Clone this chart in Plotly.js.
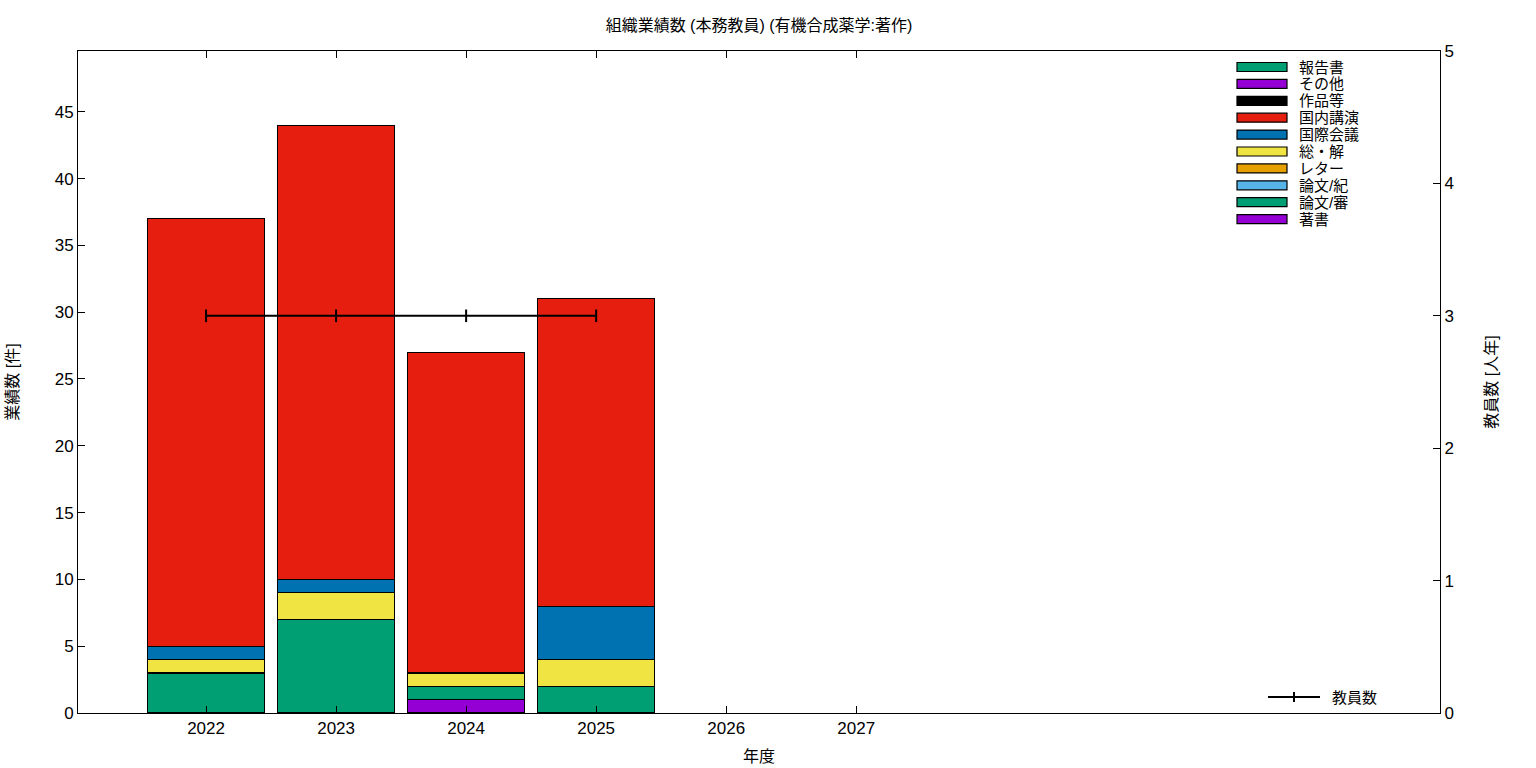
<!DOCTYPE html>
<html>
<head>
<meta charset="utf-8">
<script src="https://cdn.plot.ly/plotly-3.0.1.min.js"></script>
<style>html,body{margin:0;padding:0;background:#fff;}#chart{width:1536px;height:768px;}</style>
</head>
<body>
<div id="chart"></div>
<script>
// Data
const years = [2022, 2023, 2024, 2025];
const tickYears = [2022, 2023, 2024, 2025, 2026, 2027];
// series, stacked bottom to top
const seriesNames = ["著書", "論文/審", "論文/紀", "レター", "総・解", "国際会議", "国内講演", "作品等", "その他", "報告書"];
const seriesColors = ["#9400d3", "#009e73", "#56b4e9", "#e69f00", "#f0e442", "#0072b2", "#e51e10", "#000000", "#9400d3", "#009e73"];
const chosho     = [0, 0, 1, 0];
const ronbunShin = [3, 7, 1, 2];
const ronbunKi   = [0, 0, 0, 0];
const letter     = [0, 0, 0, 0];
const souKai     = [1, 2, 1, 2];
const kokusai    = [1, 1, 0, 4];
const kokunai    = [32, 34, 24, 23];
const sakuhin    = [0, 0, 0, 0];
const sonota     = [0, 0, 0, 0];
const houkoku    = [0, 0, 0, 0];
const seriesValues = [chosho, ronbunShin, ronbunKi, letter, souKai, kokusai, kokunai, sakuhin, sonota, houkoku];
const staffCount = [3, 3, 3, 3];

const FONT = "'Liberation Sans', 'Noto Sans CJK JP', sans-serif";

const traces = seriesNames.map((n, i) => ({
  type: 'bar', name: n, x: years, y: seriesValues[i], width: 0.9,
  marker: {color: seriesColors[i], line: {color: '#000', width: seriesValues[i].map(v => v > 0 ? 1.2 : 0)}},
  showlegend: false, hoverinfo: 'skip'
}));
traces.push({
  type: 'scatter', mode: 'lines+markers', name: '教員数', x: years, y: staffCount, yaxis: 'y2',
  line: {color: '#000', width: 2},
  marker: {symbol: 'line-ns-open', size: 9, color: '#000', line: {color: '#000', width: 2}},
  showlegend: false
});

// custom legend (gnuplot style)
const shapes = [];
const annotations = [];
const plotL = 78, plotR = 1440, plotT = 51, plotB = 713;
const pw = plotR - plotL, ph = plotB - plotT;
const px = x => (x - plotL) / pw;
const py = y => (plotB - y) / ph;
for (let k = 0; k < seriesNames.length; k++) {
  const idx = seriesNames.length - 1 - k;
  const yc = 67 + k * 16.9;
  shapes.push({type: 'rect', xref: 'paper', yref: 'paper',
    x0: px(1237), x1: px(1287), y0: py(yc + 4.5), y1: py(yc - 4.5),
    fillcolor: seriesColors[idx], line: {color: '#000', width: 1.2}});
  annotations.push({xref: 'paper', yref: 'paper', x: px(1297), y: py(yc), xanchor: 'left', yanchor: 'middle',
    text: seriesNames[idx], showarrow: false, font: {family: FONT, size: 15, color: '#000'}});
}
shapes.push({type: 'line', xref: 'paper', yref: 'paper', x0: px(1268), x1: px(1320), y0: py(697), y1: py(697), line: {color: '#000', width: 2}});
shapes.push({type: 'line', xref: 'paper', yref: 'paper', x0: px(1294), x1: px(1294), y0: py(692), y1: py(702), line: {color: '#000', width: 2}});
annotations.push({xref: 'paper', yref: 'paper', x: px(1330), y: py(697), xanchor: 'left', yanchor: 'middle',
  text: '教員数', showarrow: false, font: {family: FONT, size: 15, color: '#000'}});

const layout = {
  width: 1536, height: 768,
  margin: {l: plotL, r: 1536 - plotR, t: plotT, b: 768 - plotB},
  paper_bgcolor: '#fff', plot_bgcolor: '#fff',
  barmode: 'stack',
  font: {family: FONT, size: 16, color: '#000'},
  title: {text: '組織業績数 (本務教員) (有機合成薬学:著作)', x: 0.5, xref: 'paper', y: 1 - 25/768, yanchor: 'middle', font: {family: FONT, size: 16, color: '#000'}},
  xaxis: {
    range: [2021.015, 2031.49], tickmode: 'array', tickvals: tickYears, ticktext: tickYears.map(String),
    ticks: 'inside', ticklen: 7, tickwidth: 1, tickcolor: '#000',
    showline: true, linecolor: '#000', linewidth: 1, mirror: 'ticks',
    showgrid: false, zeroline: false,
    tickfont: {family: FONT, size: 17},
    title: {text: '年度', font: {family: FONT, size: 16}, standoff: 13}
  },
  yaxis: {
    range: [0, 49.55], tickmode: 'linear', tick0: 0, dtick: 5,
    ticks: 'inside', ticklen: 7, tickwidth: 1, tickcolor: '#000',
    showline: true, linecolor: '#000', linewidth: 1,
    showgrid: false, zeroline: false,
    tickfont: {family: FONT, size: 17},
    title: {text: '業績数 [件]', font: {family: FONT, size: 16}, standoff: 32}
  },
  yaxis2: {
    overlaying: 'y', side: 'right', range: [0, 5], tickmode: 'linear', tick0: 0, dtick: 1,
    ticks: 'inside', ticklen: 7, tickwidth: 1, tickcolor: '#000',
    showline: true, linecolor: '#000', linewidth: 1,
    showgrid: false, zeroline: false,
    tickfont: {family: FONT, size: 17},
    title: {text: '教員数 [人年]', font: {family: FONT, size: 16}, standoff: 32}
  },
  shapes: shapes,
  annotations: annotations,
  showlegend: false
};

Plotly.newPlot('chart', traces, layout, {displayModeBar: false, staticPlot: true});
</script>
</body>
</html>
